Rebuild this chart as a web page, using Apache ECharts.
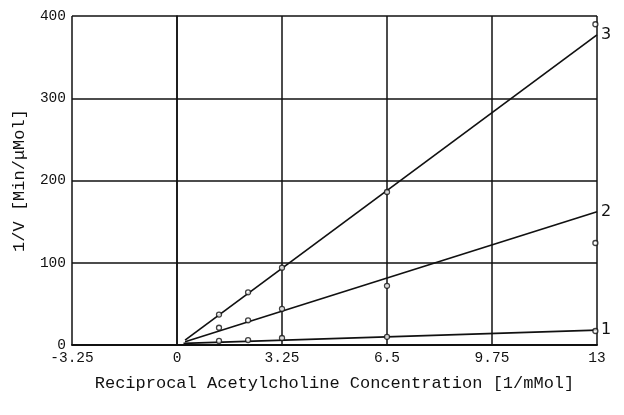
<!DOCTYPE html>
<html><head><meta charset="utf-8">
<script src="https://cdn.jsdelivr.net/npm/echarts@6/dist/echarts.min.js"></script>
<style>html,body{margin:0;padding:0;background:#fff}#c{width:624px;height:415px}</style>
</head><body><div id="c"></div>
<script>
// x tick labels (reciprocal concentration)
const xTicks = [-3.25, 0, 3.25, 6.5, 9.75, 13];
const yTicks = [0, 100, 200, 300, 400];
// measured points
const pts1 = [[1.3, 5], [2.2, 6], [3.25, 8.5], [6.5, 10], [12.95, 17]];
const pts2 = [[1.3, 21], [2.2, 30], [3.25, 44], [6.5, 72], [12.95, 124]];
const pts3 = [[1.3, 37], [2.2, 64], [3.25, 94], [6.5, 186], [12.95, 390]];
// fitted lines (endpoints)
const fit1 = [[0.2, 2], [13, 18]];
const fit2 = [[0.25, 4], [13, 162]];
const fit3 = [[0.25, 6], [13, 377]];
const lineNames = ['1', '2', '3'];

const chart = echarts.init(document.getElementById('c'), null, {renderer: 'canvas'});
const mono = 'Liberation Mono';
function lineSeries(data, name) {
  return {
    type: 'line', data: data, symbol: 'none', z: 3,
    lineStyle: {color: '#111', width: 1.7},
    endLabel: {show: true, formatter: name, color: '#111', fontSize: 16,
      fontFamily: 'DejaVu Sans', distance: 4}
  };
}
function ptSeries(data) {
  return {
    type: 'scatter', data: data, symbol: 'circle', symbolSize: 5, z: 4,
    itemStyle: {color: '#fff', borderColor: '#111', borderWidth: 1.3}
  };
}
chart.setOption({
  animation: false,
  grid: {left: 72, right: 27, top: 16, bottom: 70},
  xAxis: {
    type: 'value', min: -3.25, max: 13, interval: 3.25,
    name: 'Reciprocal Acetylcholine Concentration [1/mMol]',
    nameLocation: 'middle', nameGap: 30,
    nameTextStyle: {fontFamily: mono, fontSize: 17, color: '#111'},
    axisLine: {show: true, onZero: false, lineStyle: {color: '#111', width: 2}},
    axisTick: {show: false},
    axisLabel: {fontFamily: mono, fontSize: 14.5, color: '#111', margin: 6,
      formatter: v => String(xTicks.find(t => Math.abs(t - v) < 1e-6) ?? v)},
    splitLine: {show: true, lineStyle: {color: '#111', width: 1.5}}
  },
  yAxis: {
    type: 'value', min: 0, max: 400, interval: 100,
    name: '1/V [Min/\u03bcMol]', nameLocation: 'middle', nameGap: 44,
    nameTextStyle: {fontFamily: mono, fontSize: 17, color: '#111'},
    axisLine: {show: true, lineStyle: {color: '#111', width: 1.5}},
    axisTick: {show: false},
    axisLabel: {fontFamily: mono, fontSize: 14.5, color: '#111', margin: 6,
      formatter: v => String(yTicks.find(t => t === v) ?? v)},
    splitLine: {show: true, lineStyle: {color: '#111', width: 1.5}}
  },
  series: [
    lineSeries(fit1, lineNames[0]),
    lineSeries(fit2, lineNames[1]),
    lineSeries(fit3, lineNames[2]),
    ptSeries(pts1), ptSeries(pts2), ptSeries(pts3)
  ]
});
</script></body></html>
